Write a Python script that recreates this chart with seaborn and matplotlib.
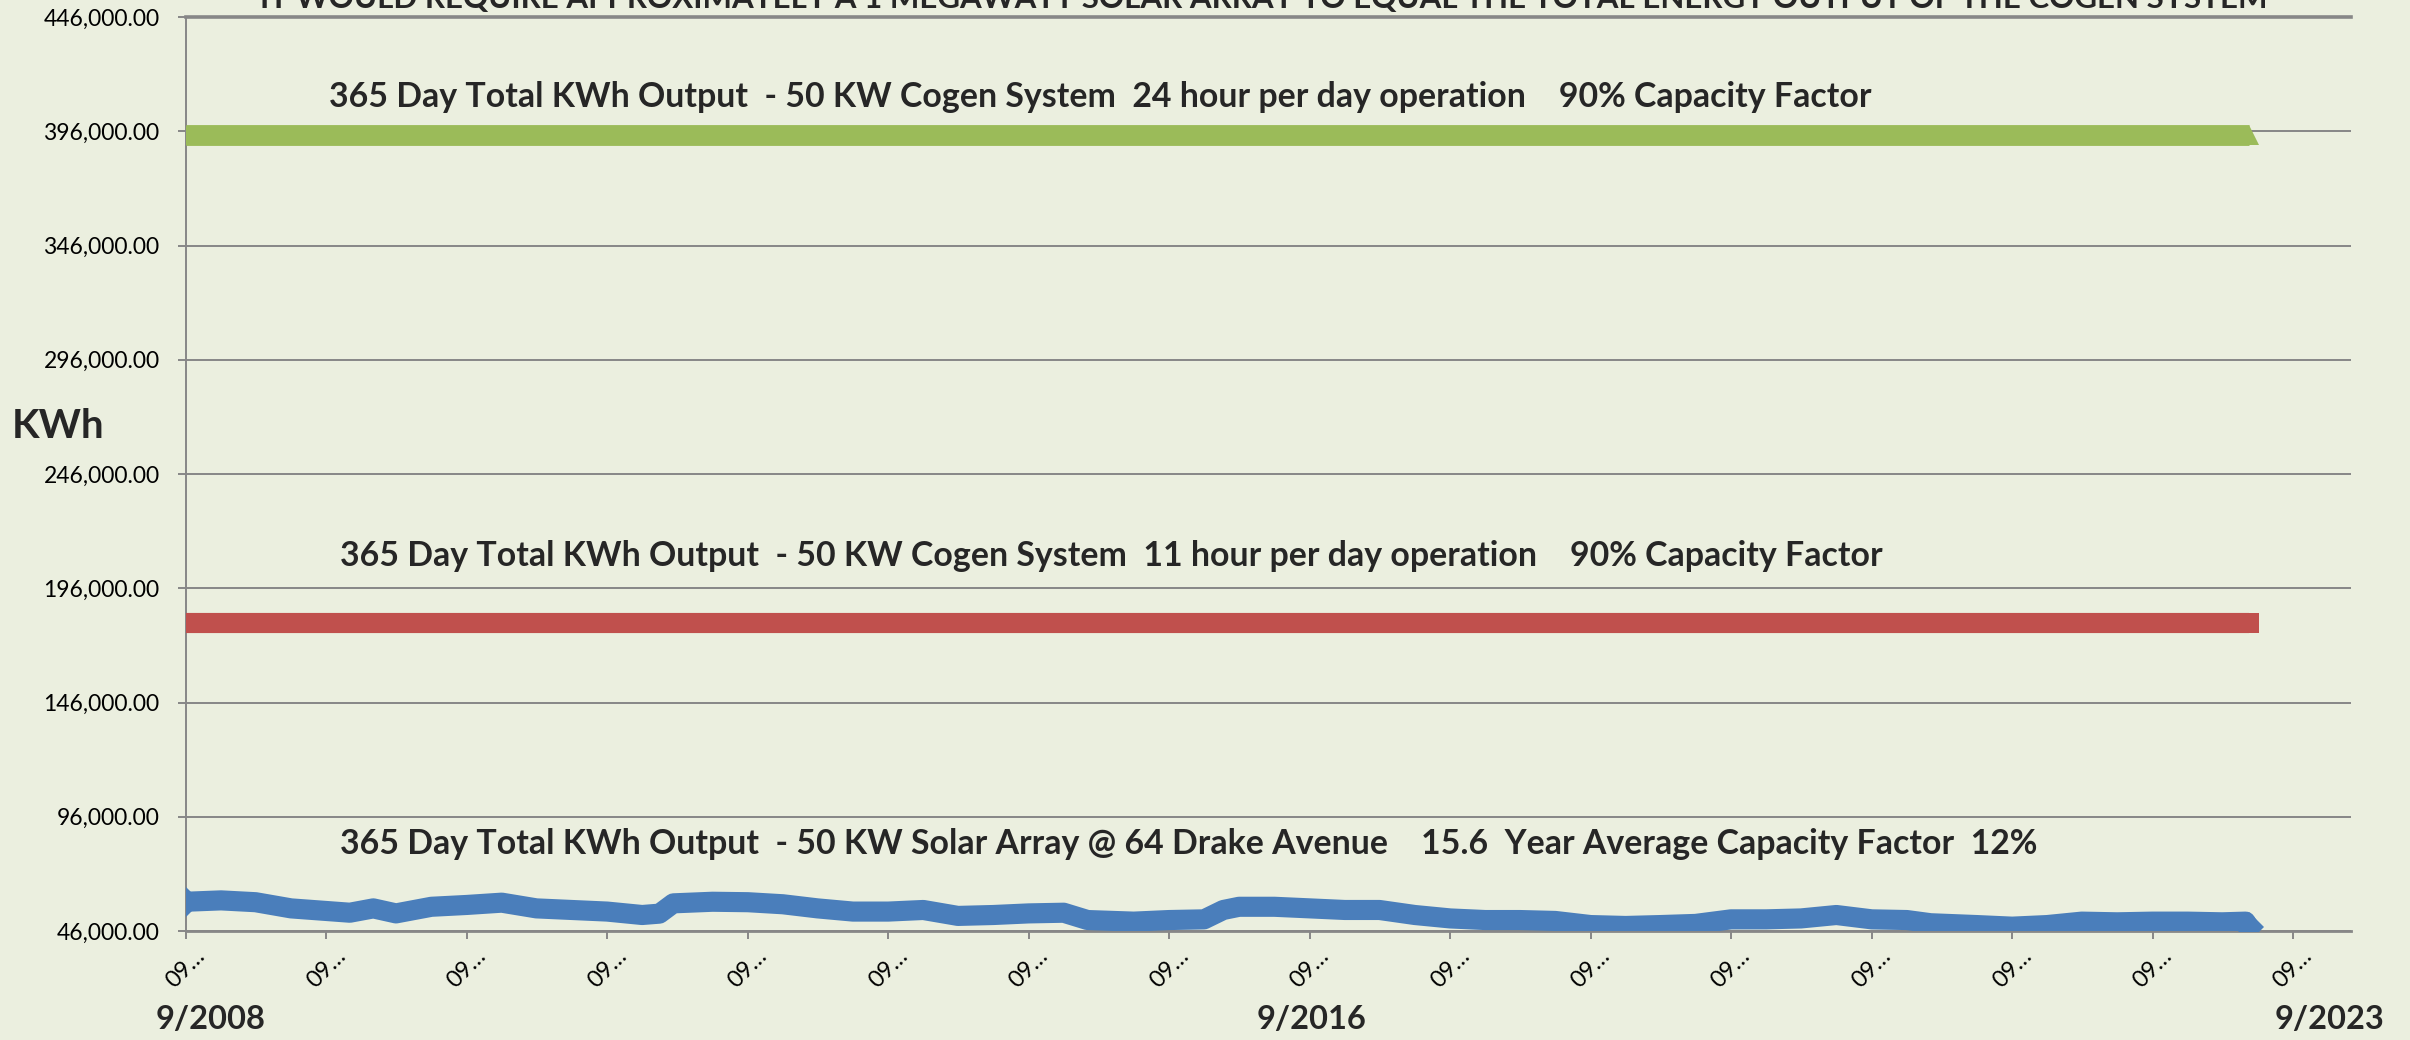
import numpy as np
import pandas as pd
import matplotlib
matplotlib.use("Agg")
import matplotlib.pyplot as plt
import seaborn as sns

# ---------------- data ----------------
solar_dates = ["2008-09-01", "2008-12-01", "2009-03-01", "2009-06-01", "2009-11-01",
               "2010-01-01", "2010-03-01", "2010-06-01", "2010-09-01", "2010-12-01",
               "2011-03-01", "2011-06-01", "2011-09-01", "2011-12-01", "2012-01-15",
               "2012-02-20", "2012-06-01", "2012-09-01", "2012-12-01", "2013-03-01",
               "2013-06-01", "2013-09-01", "2013-12-01", "2014-03-01", "2014-06-01",
               "2014-09-01", "2014-12-01", "2015-02-01", "2015-06-01", "2015-09-01",
               "2015-12-01", "2016-01-20", "2016-03-01", "2016-06-01", "2016-09-01",
               "2016-12-01", "2017-03-01", "2017-06-01", "2017-09-01", "2017-12-01",
               "2018-03-01", "2018-06-01", "2018-09-01", "2018-12-01", "2019-03-01",
               "2019-06-01", "2019-09-01", "2019-12-01", "2020-03-01", "2020-06-01",
               "2020-09-01", "2020-12-01", "2021-02-01", "2021-06-01", "2021-09-01",
               "2021-12-01", "2022-03-01", "2022-06-01", "2022-09-01", "2022-12-01",
               "2023-03-01", "2023-05-01", "2023-05-10"]
solar_kwh = [58800, 59400, 58600, 55900, 54000,
             55900, 53700, 56600, 57400, 58400,
             55900, 55200, 54500, 53000, 53600,
             58100, 58800, 58600, 57700, 55900,
             54500, 54500, 55200, 52600, 53000,
             53700, 54000, 50800, 50100, 50800,
             51100, 55200, 56600, 56600, 55900,
             55200, 55200, 53000, 51500, 50800,
             50800, 50400, 48600, 48200, 48600,
             49100, 51100, 51100, 51500, 53000,
             51100, 50800, 49400, 48600, 47900,
             48600, 50100, 49800, 50100, 50100,
             49800, 50100, 47700]

cogen_dates = ["2008-09-01", "2023-05-10"]
cogen24_kwh = [394200, 394200]
cogen11_kwh = [180675, 180675]

y_ticks = [46000, 96000, 146000, 196000, 246000, 296000, 346000, 396000, 446000]
x_tick_dates = ["2008-09-01", "2009-09-01", "2010-09-01", "2011-09-01", "2012-09-01",
                "2013-09-01", "2014-09-01", "2015-09-01", "2016-09-01", "2017-09-01",
                "2018-09-01", "2019-09-01", "2020-09-01", "2021-09-01", "2022-09-01",
                "2023-09-01"]
x_tick_labels = ["09\u2026"] * len(x_tick_dates)

title = "IT WOULD REQUIRE APPROXIMATELY A 1 MEGAWATT SOLAR ARRAY TO EQUAL THE TOTAL ENERGY OUTPUT OF THE COGEN SYSTEM"
label24 = "365 Day Total KWh Output  - 50 KW Cogen System  24 hour per day operation    90% Capacity Factor"
label11 = "365 Day Total KWh Output  - 50 KW Cogen System  11 hour per day operation    90% Capacity Factor"
label_solar = "365 Day Total KWh Output  - 50 KW Solar Array @ 64 Drake Avenue    15.6  Year Average Capacity Factor  12%"
date_labels = ["9/2008", "9/2016", "9/2023"]

# ---------------- style ----------------
BG = "#EBEFDF"
GRID = "#878787"
GREEN = "#9BBB59"
RED = "#C0504D"
BLUE = "#4A7EBB"

sns.set_style("white")
plt.rcParams["font.family"] = ["Lato", "DejaVu Sans"]

W, H = 2410, 1040
fig = plt.figure(figsize=(W / 100, H / 100), dpi=100, facecolor=BG)
L, R, B, T = 186, 2351, 931, 17
ax = fig.add_axes([L / W, 1 - B / H, (R - L) / W, (B - T) / H])
ax.set_facecolor(BG)

df_solar = pd.DataFrame({"date": pd.to_datetime(solar_dates), "kwh": solar_kwh})
df_c24 = pd.DataFrame({"date": pd.to_datetime(cogen_dates), "kwh": cogen24_kwh})
df_c11 = pd.DataFrame({"date": pd.to_datetime(cogen_dates), "kwh": cogen11_kwh})

sns.lineplot(data=df_c24, x="date", y="kwh", ax=ax, color=GREEN, linewidth=15,
             marker="^", markersize=14.5, markevery=[0, 1], markeredgewidth=0,
             solid_capstyle="butt", legend=False, zorder=3)
sns.lineplot(data=df_c11, x="date", y="kwh", ax=ax, color=RED, linewidth=14.5,
             marker="s", markersize=14, markevery=[0, 1], markeredgewidth=0,
             solid_capstyle="butt", legend=False, zorder=3)
sns.lineplot(data=df_solar, x="date", y="kwh", ax=ax, color=BLUE, linewidth=14.5,
             marker="D", markersize=15, markevery=[0, len(solar_kwh) - 1],
             markeredgewidth=0, solid_capstyle="butt", solid_joinstyle="round",
             legend=False, zorder=3, sort=False)

ax.set_ylim(y_ticks[0], y_ticks[-1])
ax.set_xlim(pd.Timestamp("2008-09-01"), pd.Timestamp("2024-01-30"))
ax.set_yticks(y_ticks)
ax.set_yticklabels([f"{v:,.2f}" for v in y_ticks])
ax.set_xticks(pd.to_datetime(x_tick_dates))
ax.set_xticklabels(x_tick_labels, rotation=45, ha="center", va="center")
ax.set_xlabel("")
ax.set_ylabel("")

ax.set_axisbelow(True)
ax.yaxis.grid(True, color=GRID, linewidth=1.4)
ax.xaxis.grid(False)
for s in ["left", "bottom", "top"]:
    ax.spines[s].set_visible(True)
    ax.spines[s].set_color(GRID)
ax.spines["left"].set_linewidth(1.4)
ax.spines["bottom"].set_linewidth(2.0)
ax.spines["top"].set_linewidth(2.6)
ax.spines["right"].set_visible(False)

ax.tick_params(axis="y", length=6, width=1.4, color=GRID, pad=13,
               labelsize=16.5, labelcolor="black", left=True)
ax.tick_params(axis="x", length=6, width=1.4, color=GRID, pad=21,
               labelsize=17, labelcolor="black", bottom=True)

def ftext(x, y, s, **kw):
    fig.text(x / W, 1 - y / H, s, **kw)

ftext(1264, 8, title, ha="center", va="baseline", fontsize=22.5, fontweight="bold")
ftext(329, 107, label24, ha="left", va="baseline", fontsize=24.4, fontweight="bold")
ftext(340, 566, label11, ha="left", va="baseline", fontsize=24.4, fontweight="bold")
ftext(340, 854, label_solar, ha="left", va="baseline", fontsize=24.4, fontweight="bold")
ftext(12, 438, "KWh", ha="left", va="baseline", fontsize=29, fontweight="bold")
ftext(156, 1029, date_labels[0], ha="left", va="baseline", fontsize=23.5, fontweight="bold")
ftext(1257, 1029, date_labels[1], ha="left", va="baseline", fontsize=23.5, fontweight="bold")
ftext(2275, 1029, date_labels[2], ha="left", va="baseline", fontsize=23.5, fontweight="bold")

fig.savefig("out.png", dpi=100, facecolor=BG)
